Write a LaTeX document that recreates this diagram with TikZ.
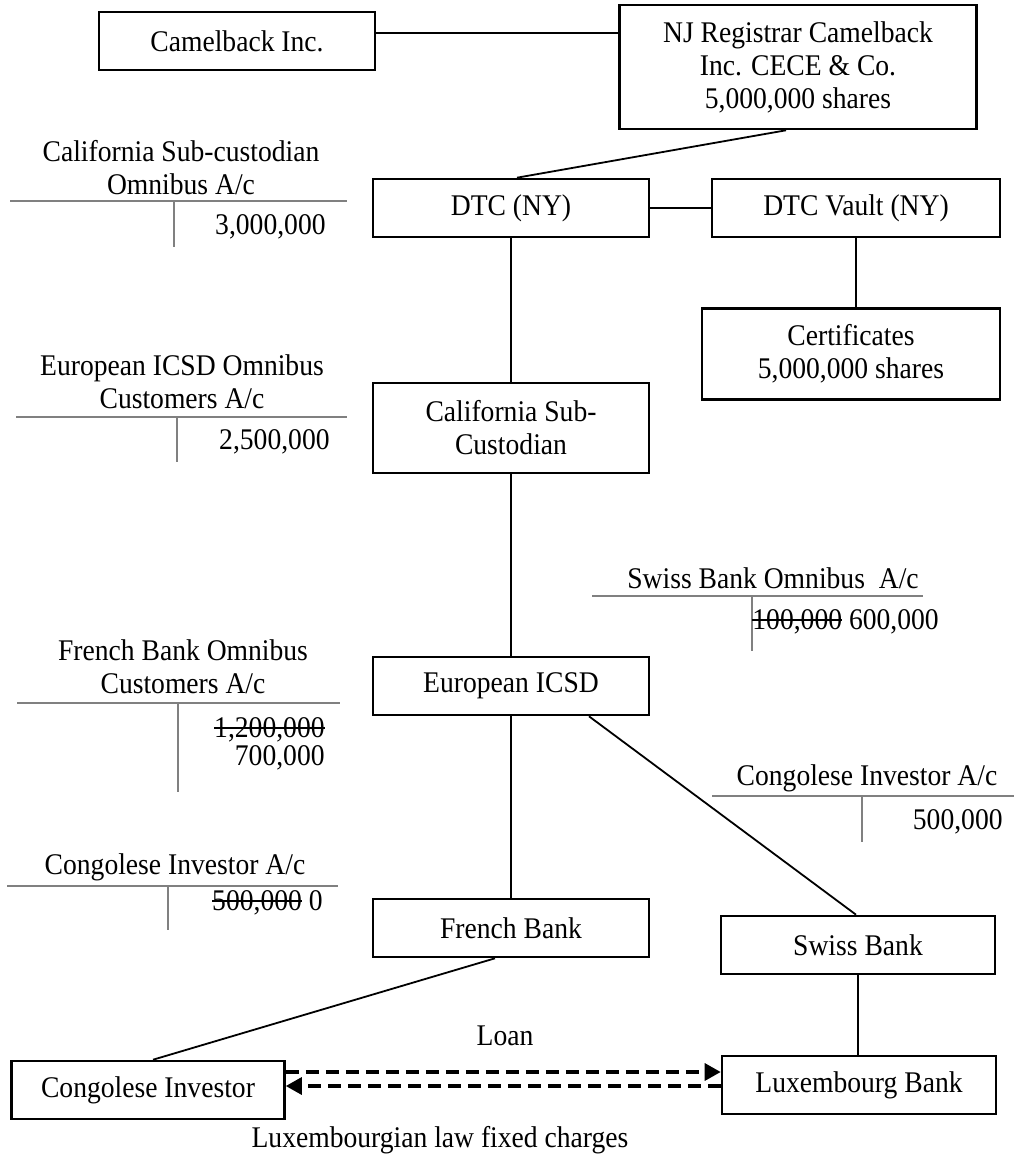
\documentclass[tikz,border=0pt]{standalone}
\usepackage{fontspec}
\setmainfont{Liberation Serif}[FakeStretch=0.92]
\usepackage{tikz}
\usetikzlibrary{arrows.meta}
\newsavebox\strikebox
\newcommand\struck[1]{\sbox\strikebox{#1}\rlap{\usebox\strikebox}\rule[0.3em]{\wd\strikebox}{0.6pt}}
\tikzset{
every node/.style={font=\fontsize{15}{16.5}\selectfont, inner sep=0pt, align=center}, % all text in the same serif
entity/.style={draw, line width=1.3pt, minimum width=138pt, minimum height=29pt}, % the boxes
link/.style={line width=0.9pt}, % plain connectors
ledger/.style={draw=black!50, line width=0.8pt}, % the T accounts
loan/.style={line width=1.6pt, dash pattern=on 6.5pt off 3.5pt, -{Triangle[length=8pt,width=8.5pt]}},
}
\begin{document}
\begin{tikzpicture}[x=0.5pt, y=-0.5pt]
    \useasboundingbox (0,0) rectangle (1014,1155);

    % entities
    \node[entity] (cam) at (237,41) {Camelback Inc.};
    \node[entity, minimum width=178.5pt, minimum height=62pt] (nj) at (798,67) {NJ Registrar Camelback\\Inc. CECE \& Co.\\5,000,000 shares};
    \node[entity] (dtc) at (511,208) {DTC (NY)};
    \node[entity, minimum width=144pt] (vault) at (856,208) {DTC Vault (NY)};
    \node[entity, minimum width=149pt, minimum height=45.5pt] (cert) at (851,354) {Certificates\\5,000,000 shares};
    \node[entity, minimum height=45pt] (cal) at (511,428) {California Sub-\\Custodian};
    \node[entity] (icsd) at (511,686) {European ICSD};
    \node[entity] (french) at (511,928) {French Bank};
    \node[entity, minimum width=137pt] (swiss) at (858,945) {Swiss Bank};
    \node[entity, minimum width=137pt] (lux) at (859,1085) {Luxembourg Bank};
    \node[entity, minimum width=136.5pt] (cong) at (148,1090) {Congolese Investor};

    % connectors
    \draw[link] ([yshift=4pt]cam.east) -- ([yshift=4pt]cam.east -| nj.west);
    \draw[link] ([xshift=-6pt]nj.south) -- ([xshift=3pt]dtc.north);
    \draw[link] (dtc.east) -- (vault.west);
    \draw[link] (vault.south) -- (vault.south |- cert.north);
    \draw[link] (dtc.south) -- (cal.north);
    \draw[link] (cal.south) -- (icsd.north);
    \draw[link] (icsd.south) -- (french.north);
    \draw[link] ([xshift=39pt]icsd.south) -- ([xshift=-1pt]swiss.north);
    \draw[link] (swiss.south) -- (swiss.south |- lux.north);
    \draw[link] ([xshift=-8pt]french.south) -- ([xshift=2.5pt]cong.north);

    % loan and charges
    \draw[loan] ([yshift=9pt]cong.east) -- ([yshift=9pt]cong.east -| lux.west);
    \draw[loan] ([yshift=2pt]cong.east -| lux.west) -- ([yshift=2pt]cong.east);
    \node (loanlbl) at (505,1036) {Loan};
    \node (lawlbl) at (440,1140) {Luxembourgian law fixed charges};

    % T accounts
    \node (calacct) at (181,168) {California Sub-custodian\\Omnibus A/c};
    \draw[ledger] (10,201) -- (347,201) (174,201) -- (174,247);
    \node[anchor=east] (calamt) at (326,227) {3,000,000};

    \node (icsdacct) at (182,382) {European ICSD Omnibus\\Customers A/c};
    \draw[ledger] (16,417) -- (347,417) (177,417) -- (177,462);
    \node[anchor=east] (icsdamt) at (330,442) {2,500,000};

    \node (frenchacct) at (183,667) {French Bank Omnibus\\Customers A/c};
    \draw[ledger] (17,703) -- (340,703) (178,703) -- (178,792);
    \node[anchor=east] (frenchold) at (325,730) {\struck{1,200,000}};
    \node[anchor=east] (frenchnew) at (325,758) {700,000};

    \node (swissacct) at (773,578) {Swiss Bank Omnibus~~A/c};
    \draw[ledger] (592,596) -- (923,596) (752,596) -- (752,651);
    \node[anchor=west] (swissamt) at (752,622) {\struck{100,000} 600,000};

    \node (congacct) at (867,778) {Congolese Investor A/c};
    \draw[ledger] (712,796) -- (1014,796) (862,796) -- (862,842);
    \node[anchor=east] (congamt) at (1003,822) {500,000};

    \node (frcongacct) at (175,867) {Congolese Investor A/c};
    \draw[ledger] (7,886) -- (338,886) (168,886) -- (168,930);
    \node[anchor=east] (frcongamt) at (323,903) {\struck{500,000} 0};
\end{tikzpicture}
\end{document}
